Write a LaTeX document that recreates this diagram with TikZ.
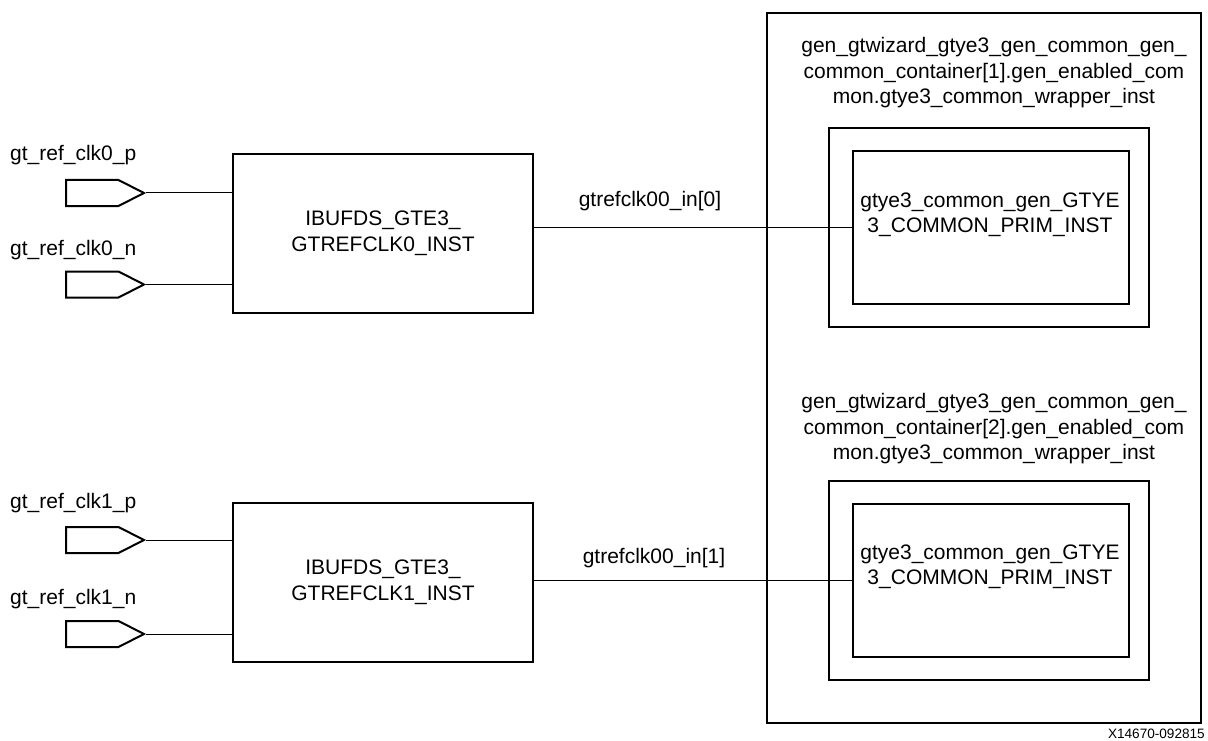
\documentclass[tikz,border=0pt]{standalone}
\usepackage{fontspec}
\setmainfont{Liberation Sans}
\usetikzlibrary{shapes.symbols}

\begin{document}
\begin{tikzpicture}[x=1pt,y=-1pt,
  blk/.style={draw,line width=2pt,inner sep=0pt},
  port/.style={draw,line width=2pt,signal,signal to=east,signal pointer angle=54,minimum width=78pt,minimum height=26pt,inner sep=0pt,anchor=west},
  wire/.style={line width=1pt},
  txt/.style={inner sep=0pt,align=center,font=\fontsize{21}{25.5}\selectfont}]
\useasboundingbox (0,0) rectangle (1208,741);
\node[txt,anchor=west] (lbl0p) at (10,155) {gt\_ref\_clk0\_p};
\node[txt,anchor=west] (lbl0n) at (10,250.5) {gt\_ref\_clk0\_n};
\node[txt,anchor=west] (lbl1p) at (10,503) {gt\_ref\_clk1\_p};
\node[txt,anchor=west] (lbl1n) at (10,599.5) {gt\_ref\_clk1\_n};
\node[port] (port0p) at (65,193) {};
\node[port] (port0n) at (65,284.5) {};
\node[port] (port1p) at (65,540) {};
\node[port] (port1n) at (65,634) {};
\node[blk,txt,minimum width=300pt,minimum height=159pt] (box0) at (383,233.5) {IBUFDS\_GTE3\_\\GTREFCLK0\_INST};
\node[blk,txt,minimum width=300pt,minimum height=159pt] (box1) at (383,582.5) {IBUFDS\_GTE3\_\\GTREFCLK1\_INST};
\node[blk,minimum width=434pt,minimum height=710pt] (outer) at (984,368) {};
\node[txt] (title0) at (994,73) {gen\_gtwizard\_gtye3\_gen\_common\_gen\_\\common\_container[1].gen\_enabled\_com\\mon.gtye3\_common\_wrapper\_inst};
\node[txt] (title1) at (994,429) {gen\_gtwizard\_gtye3\_gen\_common\_gen\_\\common\_container[2].gen\_enabled\_com\\mon.gtye3\_common\_wrapper\_inst};
\node[blk,minimum width=320pt,minimum height=199pt] (wrap0) at (989,227.5) {};
\node[blk,minimum width=320pt,minimum height=199pt] (wrap1) at (989,580.5) {};
\node[blk,minimum width=276pt,minimum height=153pt] (prim0) at (991,227.5) {};
\node[blk,minimum width=276pt,minimum height=153pt] (prim1) at (991,580.5) {};
\node[txt] (prim0txt) at (990,215) {gtye3\_common\_gen\_GTYE\\3\_COMMON\_PRIM\_INST};
\node[txt] (prim1txt) at (990,567) {gtye3\_common\_gen\_GTYE\\3\_COMMON\_PRIM\_INST};
\draw[wire] (port0p.east) -- (port0p.east -| box0.west);
\draw[wire] (port0n.east) -- (port0n.east -| box0.west);
\draw[wire] (port1p.east) -- (port1p.east -| box1.west);
\draw[wire] (port1n.east) -- (port1n.east -| box1.west);
\draw[wire] (prim0.west -| box0.east) -- (prim0.west);
\draw[wire] (prim1.west -| box1.east) -- (prim1.west);
\node[txt] (net0) at (650,201) {gtrefclk00\_in[0]};
\node[txt] (net1) at (654,558) {gtrefclk00\_in[1]};
\node[inner sep=0pt,anchor=east,font=\fontsize{13.6}{16}\selectfont] (figid) at (1205,734) {X14670-092815};
\end{tikzpicture}
\end{document}
